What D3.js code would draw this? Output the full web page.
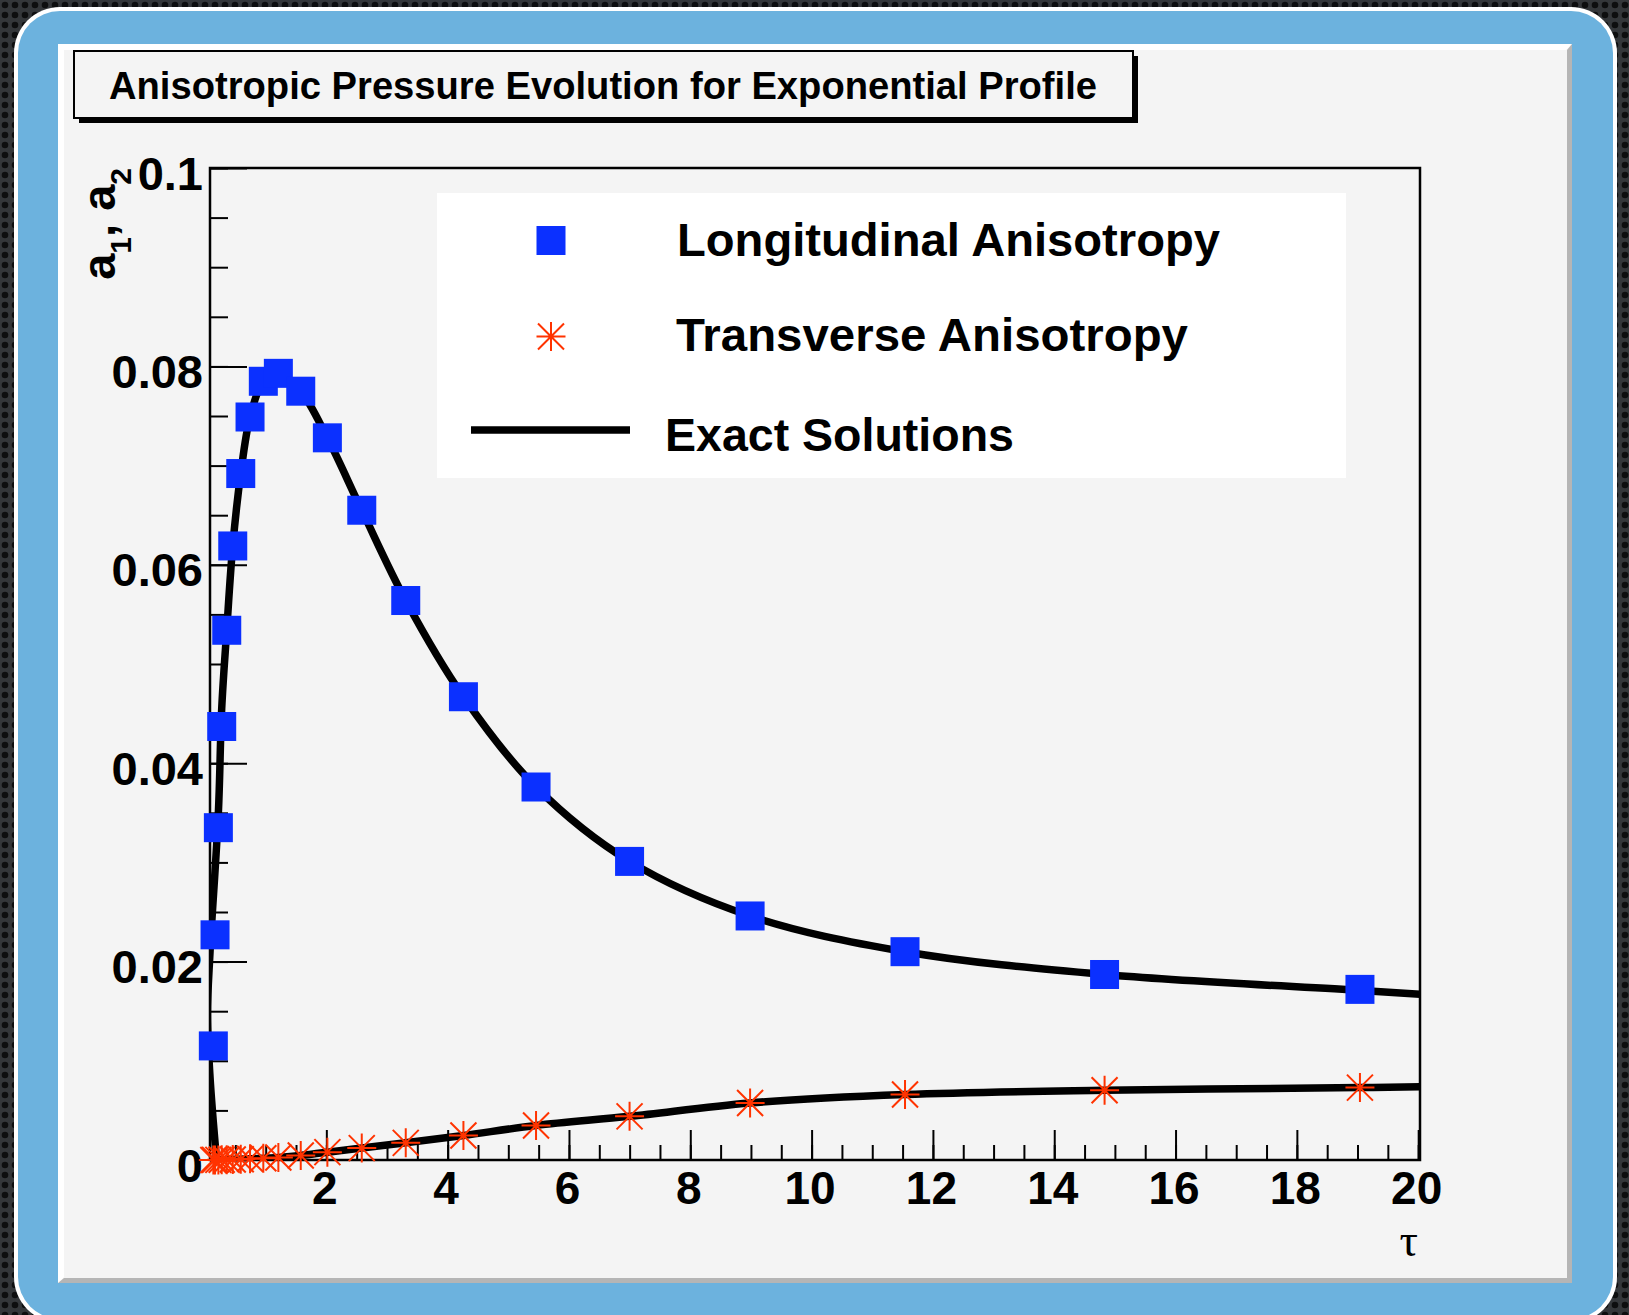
<!DOCTYPE html>
<html>
<head>
<meta charset="utf-8">
<script src="https://cdn.jsdelivr.net/npm/d3@7"></script>
<style>
  body { margin: 0; background: #1d1f21; }
  svg { display: block; }
  text { font-family: "Liberation Sans", Arial, Helvetica, sans-serif; font-weight: bold; }
</style>
</head>
<body>
<svg class="chart" width="1629" height="1315"></svg>
<script>
// simulation points
let tau = [0.137, 0.165, 0.22, 0.275, 0.358, 0.457, 0.589, 0.742, 0.961, 1.209, 1.578,
           2.017, 2.584, 3.309, 4.26, 5.457, 6.999, 8.986, 11.54, 14.83, 19.04];
let longAniso = [0.0115, 0.0227, 0.0335, 0.0437, 0.0534, 0.0619, 0.0692, 0.0749, 0.0785, 0.0793, 0.0775,
                 0.0728, 0.0655, 0.0564, 0.0467, 0.0376, 0.0301, 0.0246, 0.0210, 0.0187, 0.0172];
let transAniso = [0.0, 0.00001, 0.00001, 0.00002, 0.00003, 0.00005, 0.00007, 0.00012, 0.00017, 0.00026, 0.00045,
                  0.00079, 0.0012, 0.00173, 0.00247, 0.00348, 0.0044, 0.00575, 0.0066, 0.00703, 0.0073];

// exact solutions (black lines)
let exactLongTau = [0.19, 0.082, 0.04, 0.082, 0.22, 0.275, 0.358, 0.457, 0.589, 0.742, 0.961, 1.12, 1.209, 1.578,
                    2.017, 2.584, 3.309, 4.26, 5.457, 6.999, 8.986, 11.54, 14.83, 19.04, 20.03];
let exactLong = [0.0, 0.0084, 0.0147, 0.0209, 0.035, 0.0455, 0.0534, 0.0619, 0.0692, 0.0749, 0.0786, 0.0795, 0.0793, 0.0775,
                 0.0728, 0.0655, 0.0564, 0.0467, 0.0376, 0.0301, 0.0246, 0.0210, 0.0187, 0.0171, 0.0167];
let exactTransTau = [0.082, 0.457, 0.742, 1.209, 1.578, 2.017, 2.584, 3.309, 4.26, 5.457, 6.999, 8.986, 11.54, 14.83, 19.04, 20.03];
let exactTrans = [0.0, 0.00004, 0.00012, 0.00026, 0.00045, 0.00079, 0.0012, 0.00173, 0.00247, 0.00348, 0.0044,
                  0.00575, 0.0066, 0.00703, 0.0073, 0.00738];

let xTicks = [2, 4, 6, 8, 10, 12, 14, 16, 18, 20];
let xMinorTicks = d3.range(1, 41).map(i => i * 0.5);
let yTicks = [0, 0.02, 0.04, 0.06, 0.08, 0.1];
let yTickLabels = ['0', '0.02', '0.04', '0.06', '0.08', '0.1'];
let yMinorTicks = d3.range(0, 21).map(i => i * 0.005);

let titleText = 'Anisotropic Pressure Evolution for Exponential Profile';
let legendLabels = ['Longitudinal Anisotropy', 'Transverse Anisotropy', 'Exact Solutions'];

let blue = '#0b30ff';
let red = '#ff3300';

let svg = d3.select('svg.chart');

// dark dotted backdrop
let defs = svg.append('defs');
let pat = defs.append('pattern')
  .attr('id', 'dots')
  .attr('width', 10)
  .attr('height', 10)
  .attr('patternUnits', 'userSpaceOnUse');
pat.append('rect').attr('width', 10).attr('height', 10).attr('fill', '#34373a');
pat.append('circle').attr('cx', 5).attr('cy', 5).attr('r', 3.3).attr('fill', '#0d0e0f');

svg.append('rect')
  .attr('width', 1629)
  .attr('height', 1315)
  .attr('fill', 'url(#dots)');

// white rounded border + blue panel
svg.append('rect')
  .attr('x', 14).attr('y', 7)
  .attr('width', 1603).attr('height', 1316)
  .attr('rx', 46)
  .attr('fill', '#ffffff');

svg.append('rect')
  .attr('x', 18).attr('y', 11)
  .attr('width', 1595).attr('height', 1308)
  .attr('rx', 42)
  .attr('fill', '#6cb2de');

// canvas with bevel
svg.append('rect')
  .attr('x', 58).attr('y', 44)
  .attr('width', 1514).attr('height', 1239)
  .attr('fill', '#f4f4f4');

svg.append('path')
  .attr('d', 'M58,44H1572L1566,50H64V1277L58,1283Z')
  .attr('fill', '#ffffff');

svg.append('path')
  .attr('d', 'M1572,44V1283H58L64,1278H1567V50Z')
  .attr('fill', '#b5b5b5');

// title box
svg.append('rect')
  .attr('x', 79).attr('y', 56)
  .attr('width', 1059).attr('height', 67)
  .attr('fill', '#000');

svg.append('rect')
  .attr('x', 74).attr('y', 51)
  .attr('width', 1059).attr('height', 67)
  .attr('fill', '#f4f4f4')
  .style('stroke', '#000')
  .style('stroke-width', '2px');

svg.append('text')
  .attr('x', 603)
  .attr('y', 99)
  .attr('text-anchor', 'middle')
  .attr('textLength', 988)
  .attr('lengthAdjust', 'spacingAndGlyphs')
  .style('font-size', '38px')
  .text(titleText);

// scales
let x = d3.scaleLinear().domain([0.082, 20.03]).range([210, 1420]);
let y = d3.scaleLinear().domain([0, 0.1]).range([1160, 168]);

let plot = svg.append('g').attr('class', 'plot');

defs.append('clipPath')
  .attr('id', 'frameClip')
  .append('rect')
  .attr('x', 210).attr('y', 168)
  .attr('width', 1210).attr('height', 992);

// minor ticks
plot.append('g')
  .attr('transform', 'translate(0,1160)')
  .call(d3.axisBottom(x).tickValues(xMinorTicks).tickSize(-15).tickFormat(''))
  .call(g => g.select('.domain').remove());

plot.append('g')
  .attr('transform', 'translate(210,0)')
  .call(d3.axisLeft(y).tickValues(yMinorTicks).tickSize(-18).tickFormat(''))
  .call(g => g.select('.domain').remove());

// major ticks + labels
let xAxis = plot.append('g')
  .attr('transform', 'translate(0,1160)')
  .call(d3.axisBottom(x).tickValues(xTicks).tickSize(-30).tickPadding(11).tickFormat(d3.format('d')));
xAxis.select('.domain').remove();
xAxis.selectAll('text')
  .attr('x', -2)
  .style('font-size', '46px')
  .style('fill', '#000');

let yAxis = plot.append('g')
  .attr('transform', 'translate(210,0)')
  .call(d3.axisLeft(y).tickValues(yTicks).tickSize(-37).tickPadding(7)
    .tickFormat((d, i) => yTickLabels[i]));
yAxis.select('.domain').remove();
yAxis.selectAll('text')
  .attr('dy', '0.45em')
  .style('font-size', '47px')
  .style('fill', '#000');

plot.selectAll('.tick line')
  .style('stroke', '#000')
  .style('stroke-width', '2px');

// frame
plot.append('rect')
  .attr('x', 210).attr('y', 168)
  .attr('width', 1210).attr('height', 992)
  .attr('fill', 'none')
  .style('stroke', '#000')
  .style('stroke-width', '2.5px');

// axis titles
let yTitle = svg.append('text')
  .attr('transform', 'translate(115,168) rotate(-90)')
  .attr('text-anchor', 'end')
  .style('font-size', '47px');
yTitle.append('tspan').text('a');
yTitle.append('tspan').attr('dy', 16).style('font-size', '30px').text('1');
yTitle.append('tspan').attr('dy', -16).text(', a');
yTitle.append('tspan').attr('dy', 16).style('font-size', '30px').text('2');

svg.append('text')
  .attr('x', 1418)
  .attr('y', 1256)
  .attr('text-anchor', 'end')
  .style('font-family', '"Liberation Serif", "DejaVu Serif", serif')
  .style('font-weight', 'normal')
  .style('font-size', '46px')
  .text('τ');

// exact solution lines
let line = d3.line()
  .x(d => x(d[0]))
  .y(d => y(d[1]))
  .curve(d3.curveCatmullRom.alpha(0.5));

let curves = [d3.zip(exactLongTau, exactLong), d3.zip(exactTransTau, exactTrans)];

plot.append('g')
  .attr('clip-path', 'url(#frameClip)')
  .selectAll('path.exact')
  .data(curves)
  .enter()
  .append('path')
  .attr('class', 'exact')
  .attr('d', line)
  .style('fill', 'none')
  .style('stroke', '#000')
  .style('stroke-width', '7.5px')
  .style('stroke-linejoin', 'round');

// markers
let asterisk = 'M-14.5,0H14.5M0,-14.5V14.5M-13,-13L13,13M-13,13L13,-13';

plot.selectAll('path.trans')
  .data(d3.zip(tau, transAniso))
  .enter()
  .append('path')
  .attr('class', 'trans')
  .attr('transform', d => `translate(${x(d[0])},${y(d[1])})`)
  .attr('d', asterisk)
  .style('fill', 'none')
  .style('stroke', red)
  .style('stroke-width', '2px');

plot.selectAll('rect.long')
  .data(d3.zip(tau, longAniso))
  .enter()
  .append('rect')
  .attr('class', 'long')
  .attr('x', d => x(d[0]) - 14.5)
  .attr('y', d => y(d[1]) - 14.5)
  .attr('width', 29)
  .attr('height', 29)
  .style('fill', blue);

// legend
let legend = svg.append('g').attr('class', 'legend');

legend.append('rect')
  .attr('x', 437).attr('y', 193)
  .attr('width', 909).attr('height', 285)
  .attr('fill', '#ffffff');

legend.append('rect')
  .attr('x', 536.5).attr('y', 226)
  .attr('width', 29).attr('height', 29)
  .style('fill', blue);

legend.append('path')
  .attr('transform', 'translate(551,336.5)')
  .attr('d', asterisk)
  .style('fill', 'none')
  .style('stroke', red)
  .style('stroke-width', '2px');

legend.append('line')
  .attr('x1', 471).attr('x2', 630)
  .attr('y1', 430).attr('y2', 430)
  .style('stroke', '#000')
  .style('stroke-width', '7.5px');

let legendX = [677, 676, 665];
let legendY = [256, 351, 451];
let legendW = [543, 512, 349];

legend.selectAll('text')
  .data(legendLabels)
  .enter()
  .append('text')
  .attr('x', (d, i) => legendX[i])
  .attr('y', (d, i) => legendY[i])
  .attr('textLength', (d, i) => legendW[i])
  .attr('lengthAdjust', 'spacingAndGlyphs')
  .style('font-size', '46px')
  .text(d => d);
</script>
</body>
</html>
